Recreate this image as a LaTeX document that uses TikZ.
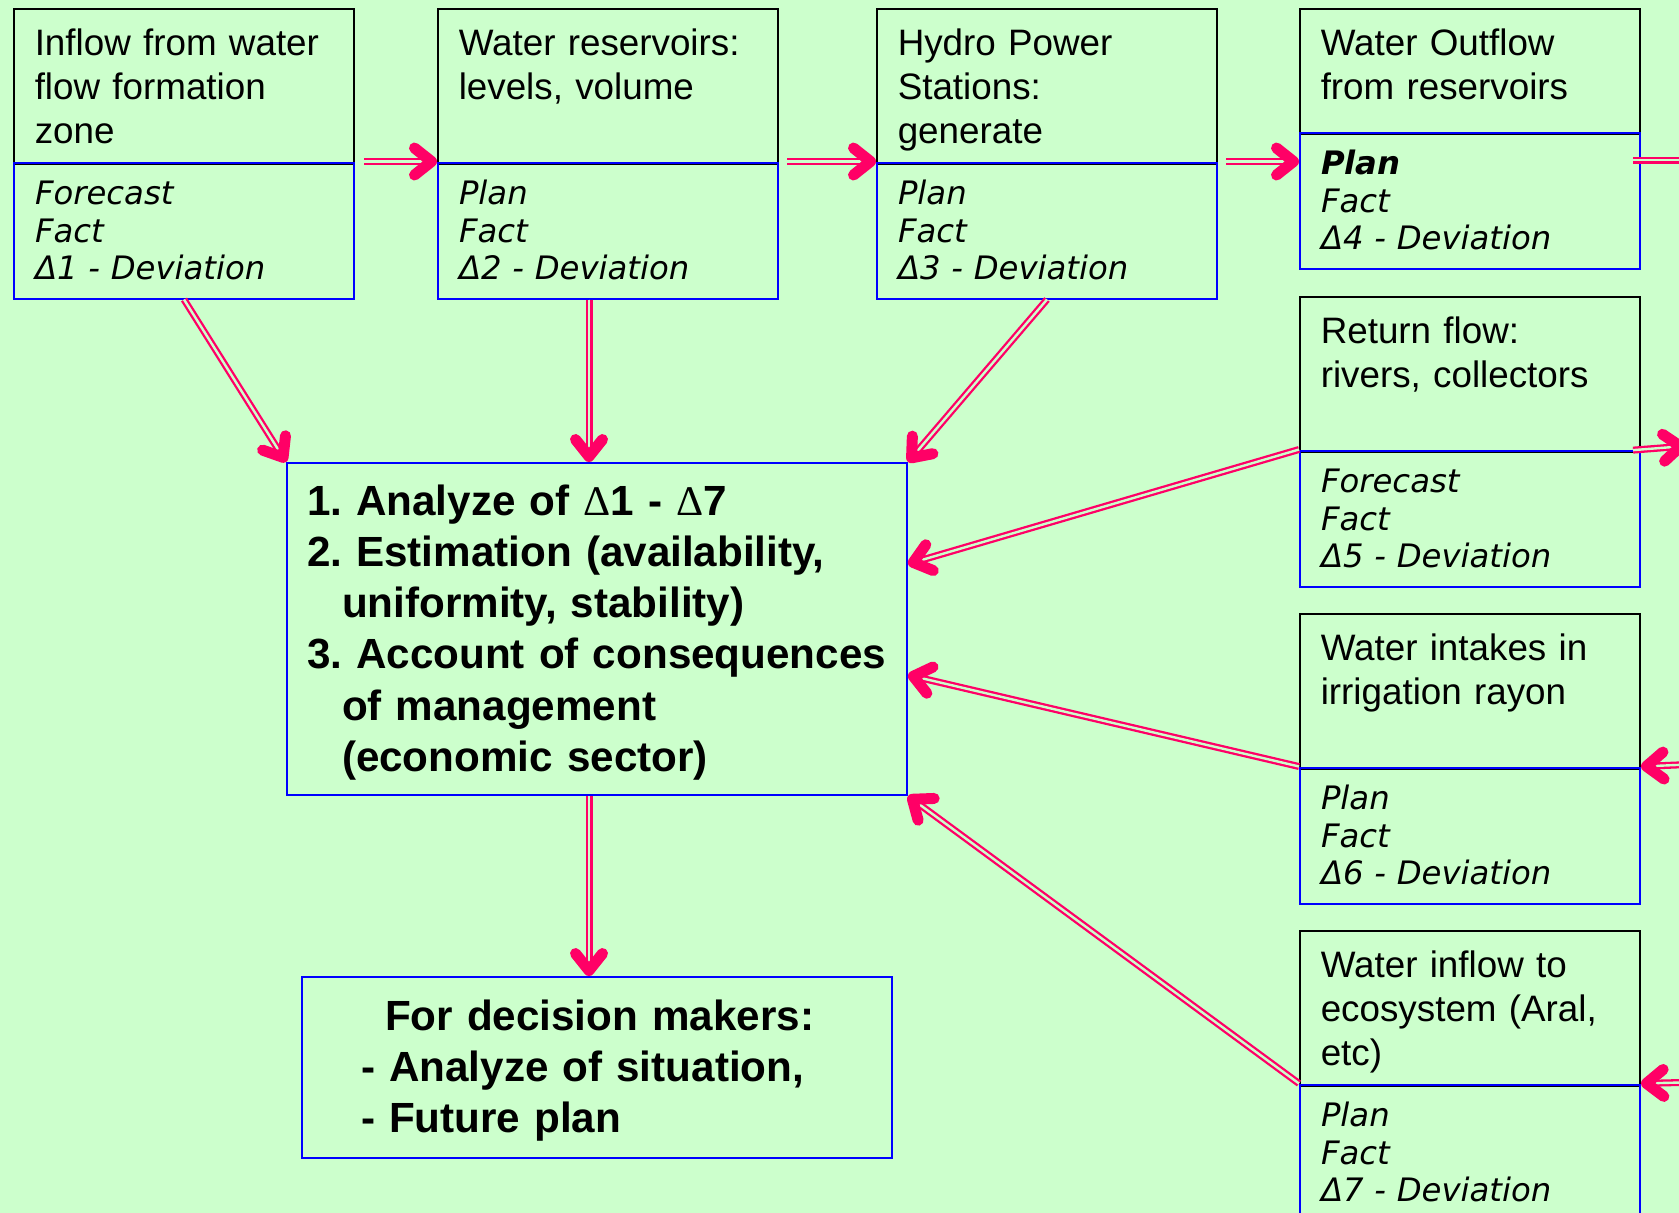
\documentclass[tikz,border=0pt]{standalone}
\usepackage{fontspec}
\setmainfont{Liberation Sans}
\newfontfamily\notefont{DejaVu Sans}[ItalicFont={DejaVu Sans Oblique},
  BoldItalicFont={DejaVu Sans Bold Oblique}]
\newfontfamily\symfont{Liberation Serif}
\usetikzlibrary{positioning,arrows.meta}
\frenchspacing

\definecolor{paper}{RGB}{204,255,204}
\definecolor{linkred}{RGB}{255,0,102}

\tikzset{
  head/.style={draw=black, line width=1.5pt, anchor=north west, align=left,
    text width=298pt, inner xsep=21pt, inner ysep=0pt,
    text height=47pt, text depth=#1, font=\fontsize{36.8}{44}\selectfont},
  head/.default=108pt,
  data/.style={draw=blue, line width=2pt, anchor=north west, align=left,
    text width=298pt, inner xsep=21pt, inner ysep=0pt,
    text height=42pt, text depth=94pt,
    font=\notefont\itshape\fontsize{32.3}{37.5}\selectfont},
  summary/.style={draw=blue, line width=2pt, anchor=north west, align=left,
    inner ysep=0pt, font=\bfseries\fontsize{42.2}{51.3}\selectfont},
  % red double line: thick stroke with a paper-coloured core, tip drawn on top
  link/.style={draw=linkred, line width=7pt, shorten >=5pt,
    postaction={draw=paper, line width=2.4pt, shorten >=11pt},
    postaction={draw=paper, line width=0.1pt, shorten >=0pt,
      -{Straight Barb[color=linkred, round, length=17pt, width=27pt, line width=11pt]}}},
  rim/.style={draw=linkred, line width=7pt,
    postaction={draw=paper, line width=2.4pt}}
}

\begin{document}
\begin{tikzpicture}[x=1pt, y=-1pt]
  \useasboundingbox (0,0) rectangle (1679,1213);
  \clip (0,0) rectangle (1679,1213);
  \fill[paper] (0,0) rectangle (1679,1213);

  % top row
  \node[head] (inflow) at (13,8) {Inflow from water\\flow formation\\zone};
  \node[data] (inflowdata) at ([yshift=3pt]inflow.south west) {Forecast\\Fact\\Δ1 - Deviation};
  \node[head] (reservoir) at (437,8) {Water reservoirs:\\levels, volume};
  \node[data] (reservoirdata) at ([yshift=3pt]reservoir.south west) {Plan\\Fact\\Δ2 - Deviation};
  \node[head] (hydro) at (876,8) {Hydro Power\\Stations:\\generate};
  \node[data] (hydrodata) at ([yshift=3pt]hydro.south west) {Plan\\Fact\\Δ3 - Deviation};
  \node[head=78pt] (outflow) at (1299,8) {Water Outflow\\from reservoirs};
  \node[data] (outflowdata) at ([yshift=3pt]outflow.south west) {\textbf{Plan}\\Fact\\Δ4 - Deviation};

  % right column
  \node[head] (returnflow) at (1299,296) {Return flow:\\rivers, collectors};
  \node[data] (returnflowdata) at ([yshift=3pt]returnflow.south west) {Forecast\\Fact\\Δ5 - Deviation};
  \node[head] (intake) at (1299,613) {Water intakes in\\irrigation rayon};
  \node[data] (intakedata) at ([yshift=3pt]intake.south west) {Plan\\Fact\\Δ6 - Deviation};
  \node[head] (ecosys) at (1299,930) {Water inflow to\\ecosystem (Aral,\\etc)};
  \node[data] (ecosysdata) at ([yshift=3pt]ecosys.south west) {Plan\\Fact\\Δ7 - Deviation};

  % analysis and decision
  \node[summary, minimum width=620pt, text width=580pt, inner xsep=20pt,
    text height=52pt, text depth=280pt] (analysis) at (286,462)
    {1. Analyze of {\symfont\mdseries Δ}1 - {\symfont\mdseries Δ}7\\
     2. Estimation (availability,\\
     \hspace*{35pt}uniformity, stability)\\
     \mbox{3. Account of consequences}\\
     \hspace*{35pt}of management\\
     \hspace*{35pt}(economic sector)};
  \node[summary, text width=472pt, inner xsep=59pt,
    text height=53pt, text depth=128pt] (decision) at (301,976)
    {\hspace*{24pt}For decision makers:\\- Analyze of situation,\\- Future plan};

  \coordinate (axis) at ([xshift=-8pt]analysis.north);
  \coordinate (spill) at (1700,160);
  \coordinate (drain) at (1686,446);
  \coordinate (feed1) at (1700,764);
  \coordinate (feed2) at (1700,1082);

  % flow along the top
  \draw[link, shorten <=9pt] (inflowdata.north east) -- (reservoirdata.north west);
  \draw[link, shorten <=8pt] (reservoirdata.north east) -- (hydrodata.north west);
  \draw[link, shorten <=8pt] (hydrodata.north east) -- (outflowdata.west |- hydrodata.north);
  \draw[rim, shorten <=-8pt] (outflowdata.east |- spill) -- (spill);
  \draw[link, shorten <=-8pt] (returnflowdata.north east) -- (drain);
  \draw[link] (feed1) -- (intakedata.north east);
  \draw[link] (feed2) -- (ecosysdata.north east);

  % into the analysis
  \draw[link] (inflowdata.south) -- (analysis.north west);
  \draw[link] (reservoirdata.south -| axis) -- (axis);
  \draw[link] (hydrodata.south) -- (analysis.north east);
  \draw[link] (returnflowdata.north west) -- ([yshift=-102pt]analysis.north east);
  \draw[link] (intakedata.north west) -- ([yshift=-213pt]analysis.north east);
  \draw[link] (ecosysdata.north west) -- (analysis.south east);
  \draw[link] (analysis.south -| axis) -- (decision.north -| axis);
\end{tikzpicture}
\end{document}
